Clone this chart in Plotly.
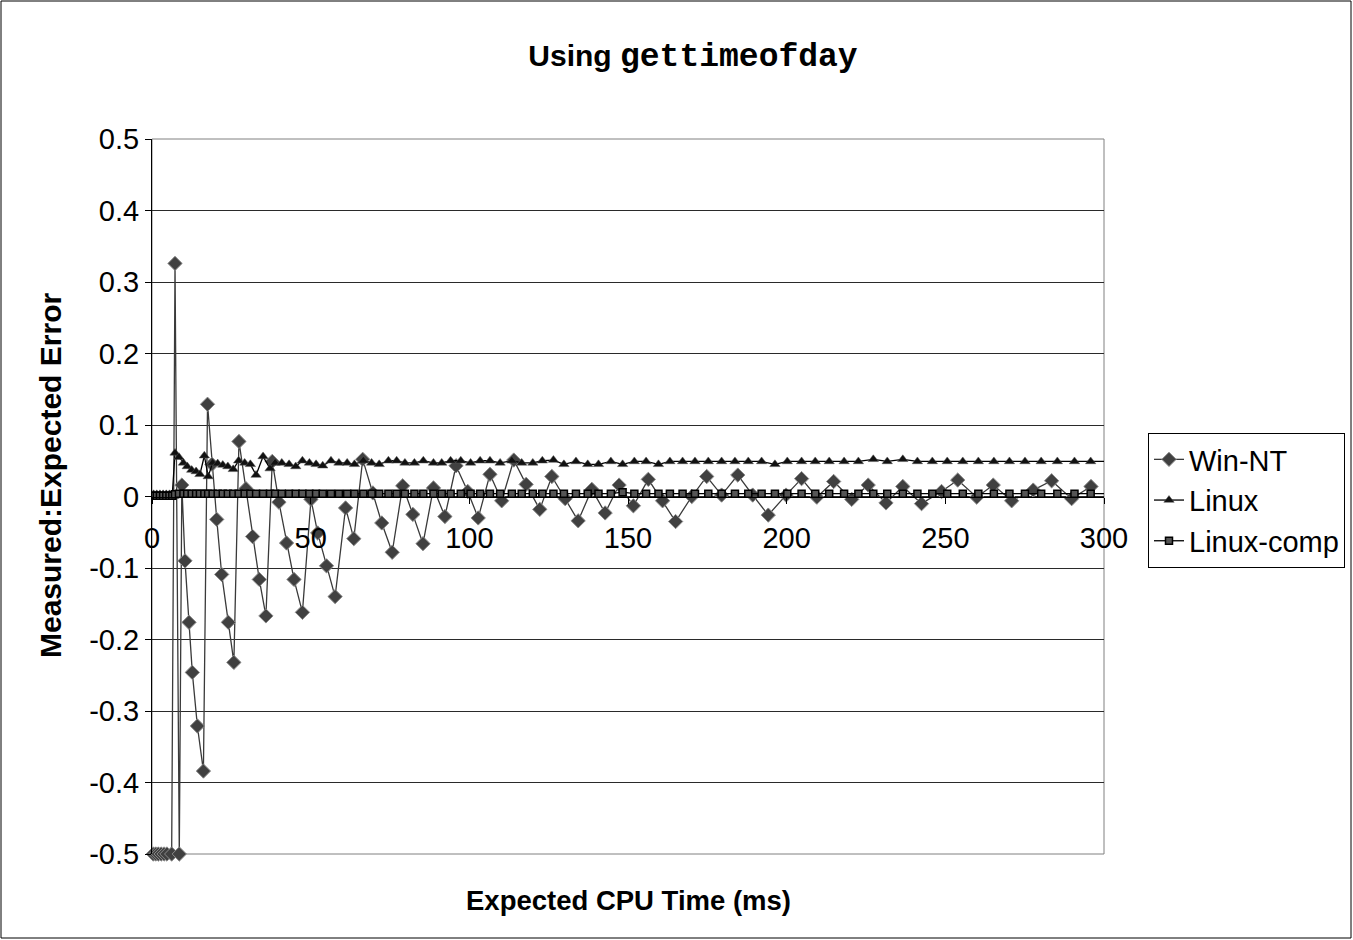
import plotly.graph_objects as go

# ---------------- data ----------------
win_x = [0.4, 1.2, 2.0, 2.9, 3.8, 4.7, 6.2,
         7.25, 8.6, 9.4, 10.4, 11.66, 12.7, 14.3, 16.2, 17.5, 18.9,
         20.4, 21.96, 24.05, 25.8, 27.4, 29.6, 31.7, 33.8, 35.9, 37.9,
         40.0, 42.4, 44.75, 47.4, 50.1, 52.2, 55.0, 57.7, 61.0, 63.6,
         66.4, 69.6, 72.4, 75.7, 79.0, 82.2, 85.4, 88.7, 92.3, 95.8,
         99.5, 102.8, 106.5, 110.2, 114.0, 117.9, 122.2, 126.0, 130.2, 134.3,
         138.6, 142.8, 147.2, 151.7, 156.4, 160.9, 165.0, 170.1, 174.8, 179.5,
         184.6, 189.3, 194.2, 199.8, 204.7, 209.5, 214.8, 220.5, 225.7, 231.3,
         236.6, 242.5, 248.8, 253.9, 259.9, 265.1, 270.9, 277.7, 283.5, 289.8,
         295.9]
win_y = [-0.5, -0.5, -0.5, -0.5, -0.5, -0.5, -0.5,
         0.326, -0.5, 0.016, -0.090, -0.176, -0.246, -0.321, -0.384, 0.129, 0.045,
         -0.032, -0.109, -0.176, -0.232, 0.077, 0.011, -0.056, -0.116, -0.167, 0.049,
         -0.008, -0.065, -0.116, -0.162, -0.004, -0.051, -0.097, -0.140, -0.016, -0.059,
         0.052, 0.005, -0.037, -0.078, 0.015, -0.025, -0.066, 0.012, -0.028, 0.043,
         0.007, -0.030, 0.031, -0.006, 0.051, 0.017, -0.018, 0.028, -0.003, -0.034,
         0.010, -0.023, 0.016, -0.013, 0.024, -0.006, -0.035, 0.000, 0.028, 0.002,
         0.030, 0.002, -0.026, 0.002, 0.025, -0.001, 0.021, -0.004, 0.016, -0.009,
         0.014, -0.010, 0.007, 0.023, -0.001, 0.016, -0.006, 0.009, 0.022, -0.003,
         0.014]

linux_x = [0.5, 1.5, 2.5, 3.5, 4.5, 5.5, 6.4,
           7.25, 8.5, 9.9, 11.1, 12.5, 13.9, 15.1, 16.5, 17.7, 19.1,
           20.7, 22.3, 23.9, 25.6, 27.3, 29.2, 31.0, 32.8, 35.0, 37.2,
           38.8, 40.9, 43.2, 45.3, 47.4, 49.6, 51.7, 53.8, 56.4, 58.9,
           61.5, 63.8, 66.6, 69.2, 71.6, 74.5, 77.1, 79.7, 82.7, 85.5,
           88.7, 91.3, 94.1, 97.3, 100.4, 103.4, 106.5, 109.7, 113.4, 116.5,
           120.0, 123.0, 126.5, 129.8, 133.6, 137.3, 140.7, 144.6, 148.3, 152.0,
           155.7, 159.6, 163.2, 167.2, 171.1, 175.3, 179.5, 183.7, 187.9, 192.1,
           196.3, 200.2, 204.7, 209.0, 213.4, 218.1, 222.6, 227.3, 231.7, 236.6,
           241.2, 245.9, 250.6, 255.5, 260.4, 265.3, 270.2, 275.1, 280.2, 285.3,
           290.7, 295.8, 301.0]
linux_y = [0.003, 0.003, 0.003, 0.003, 0.003, 0.003, 0.003,
           0.061, 0.055, 0.047, 0.042, 0.037, 0.035, 0.031, 0.057, 0.028, 0.047,
           0.046, 0.044, 0.042, 0.038, 0.050, 0.047, 0.045, 0.030, 0.056, 0.039,
           0.047, 0.047, 0.045, 0.042, 0.050, 0.047, 0.045, 0.043, 0.050, 0.047,
           0.047, 0.045, 0.050, 0.047, 0.045, 0.050, 0.050, 0.047, 0.047, 0.050,
           0.047, 0.047, 0.050, 0.050, 0.047, 0.050, 0.050, 0.047, 0.050, 0.047,
           0.047, 0.050, 0.051, 0.045, 0.049, 0.045, 0.045, 0.049, 0.045, 0.049,
           0.049, 0.045, 0.049, 0.049, 0.049, 0.049, 0.049, 0.049, 0.049, 0.049,
           0.045, 0.049, 0.049, 0.049, 0.049, 0.049, 0.049, 0.052, 0.049, 0.052,
           0.049, 0.049, 0.049, 0.049, 0.049, 0.049, 0.049, 0.049, 0.049, 0.049,
           0.049, 0.049, 0.049]
comp_y = [0.001, 0.001, 0.001, 0.001, 0.001, 0.001, 0.001,
          0.003, 0.004, 0.004, 0.004, 0.004, 0.004, 0.004, 0.004, 0.004, 0.004,
          0.004, 0.004, 0.004, 0.004, 0.004, 0.004, 0.004, 0.004, 0.004, 0.004,
          0.004, 0.004, 0.004, 0.004, 0.004, 0.004, 0.004, 0.004, 0.004, 0.004,
          0.004, 0.004, 0.004, 0.004, 0.004, 0.004, 0.004, 0.004, 0.004, 0.004,
          0.004, 0.004, 0.004, 0.004, 0.004, 0.004, 0.004, 0.004, 0.004, 0.004,
          0.004, 0.004, 0.004, 0.004, 0.004, 0.004, 0.004, 0.004, 0.006, 0.004,
          0.004, 0.004, 0.004, 0.004, 0.004, 0.004, 0.004, 0.004, 0.004, 0.004,
          0.004, 0.004, 0.004, 0.004, 0.004, 0.004, 0.004, 0.004, 0.004, 0.004,
          0.004, 0.004, 0.004, 0.004, 0.004, 0.004, 0.004, 0.004, 0.004, 0.004,
          0.004, 0.004, 0.004]

series_names = ["Win-NT", "Linux", "Linux-comp"]
y_ticks = [0.5, 0.4, 0.3, 0.2, 0.1, 0, -0.1, -0.2, -0.3, -0.4, -0.5]
y_tick_labels = ["0.5", "0.4", "0.3", "0.2", "0.1", "0", "-0.1", "-0.2", "-0.3", "-0.4", "-0.5"]
x_ticks = [0, 50, 100, 150, 200, 250, 300]
x_tick_labels = ["0", "50", "100", "150", "200", "250", "300"]

FONT = "Liberation Sans, Arial, sans-serif"
TICK_SIZE = 29

fig = go.Figure()
fig.add_trace(go.Scatter(
    x=win_x, y=win_y, name=series_names[0], mode="lines+markers",
    line=dict(color="#3a3a3a", width=1.3),
    marker=dict(symbol="diamond", size=11, color="#404040", line=dict(color="#8a8a8a", width=1)),
    cliponaxis=False))
fig.add_trace(go.Scatter(
    x=linux_x, y=linux_y, name=series_names[1], mode="lines+markers",
    line=dict(color="#000000", width=1.3),
    marker=dict(symbol="triangle-up", size=9, color="#111111", line=dict(color="#555555", width=0.5)),
    cliponaxis=True))
fig.add_trace(go.Scatter(
    x=linux_x, y=comp_y, name=series_names[2], mode="lines+markers",
    line=dict(color="#000000", width=1.3),
    marker=dict(symbol="square", size=7, color="#555555", line=dict(color="#000000", width=1.5)),
    cliponaxis=True))

L, R, T, B = 152, 249, 139, 86
W, H = 1353, 940
pw, ph = W - L - R, H - T - B

fig.update_layout(
    width=W, height=H,
    margin=dict(l=L, r=R, t=T, b=B, autoexpand=False),
    paper_bgcolor="white", plot_bgcolor="white",
    font=dict(family=FONT, size=TICK_SIZE, color="black"),
    title=dict(
        text="<b>Using <span style='font-family:Liberation Mono, Courier New, monospace;font-size:33px'>gettimeofday</span></b>",
        x=693 / W, xanchor="center", y=1 - 55 / H, yanchor="middle",
        font=dict(family=FONT, size=30, color="black")),
    showlegend=True,
    legend=dict(
        x=(1148 - L) / pw, xanchor="left", y=(T + ph - 433) / ph, yanchor="top",
        bordercolor="black", borderwidth=1, bgcolor="white",
        font=dict(family=FONT, size=29, color="black"),
        itemwidth=30, tracegroupgap=0),
    xaxis=dict(
        range=[0, 300], tickvals=x_ticks, ticktext=x_tick_labels,
        anchor="free", position=0.5,
        showline=True, linecolor="black", linewidth=1,
        ticks="outside", ticklen=6, tickcolor="black",
        ticklabelstandoff=10,
        showgrid=False, zeroline=False,
        tickfont=dict(family=FONT, size=TICK_SIZE, color="black")),
    yaxis=dict(
        range=[-0.5, 0.5], tickvals=y_ticks, ticktext=y_tick_labels,
        showline=True, linecolor="black", linewidth=1,
        ticks="outside", ticklen=6, tickcolor="black",
        showgrid=True, gridcolor="#2a2a2a", gridwidth=1, zeroline=False,
        tickfont=dict(family=FONT, size=TICK_SIZE, color="black"),
        automargin=False),
)

# axis titles as annotations
fig.add_annotation(
    text="<b>Expected CPU Time (ms)</b>", xref="paper", yref="paper",
    x=0.5, y=-(900 - (T + ph)) / ph, xanchor="center", yanchor="middle",
    showarrow=False, font=dict(family=FONT, size=27.5, color="black"))
fig.add_annotation(
    text="<b>Measured:Expected Error</b>", xref="paper", yref="paper",
    x=(50 - L) / pw, y=(T + ph - 476) / ph, xanchor="center", yanchor="middle",
    textangle=-90, showarrow=False, font=dict(family=FONT, size=30, color="black"))

# plot-area frame (grey) and outer chart border (black)
fig.add_shape(type="rect", xref="paper", yref="paper", x0=0, x1=1, y0=0, y1=1,
              line=dict(color="#808080", width=1), layer="below")
fig.add_shape(type="rect", xref="paper", yref="paper",
              x0=(1 - L) / pw, x1=(W - 2 - L) / pw,
              y0=-(H - 2 - (T + ph)) / ph, y1=(T + ph - 1) / ph,
              line=dict(color="black", width=1), layer="below")

fig.write_html("out.html", config={"displayModeBar": False},
               post_script="document.body.style.margin='0';document.body.style.overflow='hidden';")
